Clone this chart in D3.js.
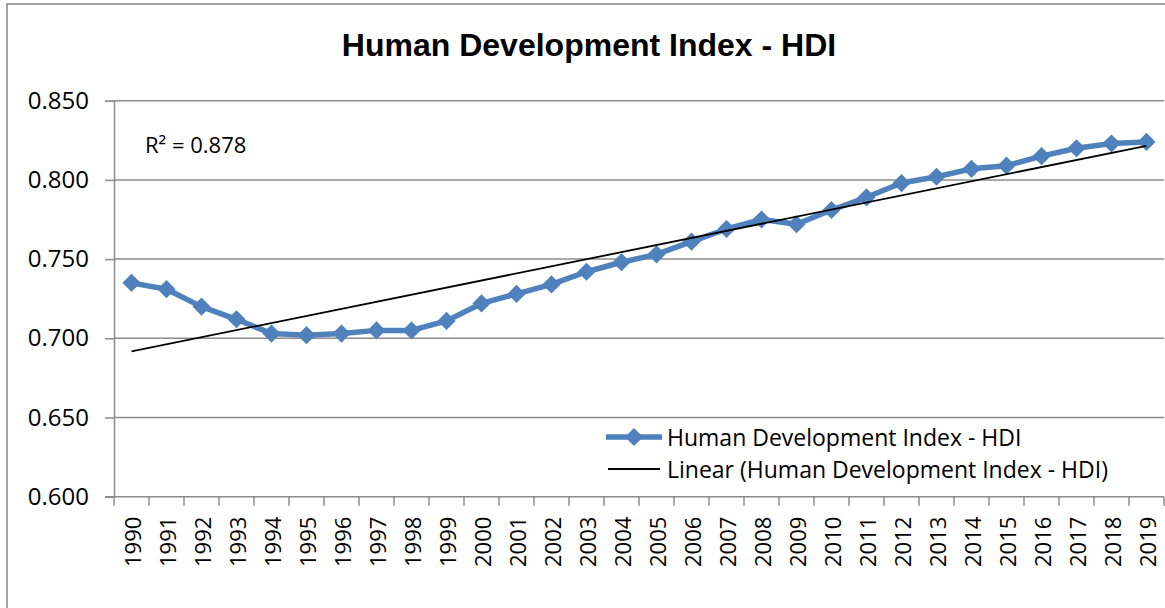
<!DOCTYPE html>
<html>
<head>
<meta charset="utf-8">
<script src="https://cdn.jsdelivr.net/npm/d3@7"></script>
<style>
  body { margin: 0; background: #fff; }
  text { font-family: "Open Sans", "Noto Sans", sans-serif; fill: #000; }
</style>
</head>
<body>
<svg id="hdi"></svg>
<script>
// chart data
var years = ["1990","1991","1992","1993","1994","1995","1996","1997","1998","1999",
             "2000","2001","2002","2003","2004","2005","2006","2007","2008","2009",
             "2010","2011","2012","2013","2014","2015","2016","2017","2018","2019"];
var hdiValues = [0.735,0.731,0.720,0.712,0.703,0.702,0.703,0.705,0.705,0.711,
                 0.722,0.728,0.734,0.742,0.748,0.753,0.761,0.769,0.775,0.772,
                 0.781,0.789,0.798,0.802,0.807,0.809,0.815,0.820,0.823,0.824];
var yTicks = [0.600,0.650,0.700,0.750,0.800,0.850];
var seriesName = "Human Development Index - HDI";
var trendName = "Linear (Human Development Index - HDI)";

var blue = "#4f81bd";
var gridColor = "#8c8c8c";

//least squares line over the point index, like the spreadsheet trendline
var linearFit = function(vals)
{
    var n = vals.length;
    var xs = d3.range(1, n+1);
    var mx = d3.mean(xs), my = d3.mean(vals);
    var sxy = 0, sxx = 0;
    for (var i = 0; i < n; i++) {
        sxy += (xs[i]-mx)*(vals[i]-my);
        sxx += (xs[i]-mx)*(xs[i]-mx);
    }
    var slope = sxy/sxx;
    var icpt = my - slope*mx;
    var ssTot = 0, ssRes = 0;
    for (var j = 0; j < n; j++) {
        var f = icpt + slope*xs[j];
        ssRes += (vals[j]-f)*(vals[j]-f);
        ssTot += (vals[j]-my)*(vals[j]-my);
    }
    return {slope:slope, icpt:icpt, r2:1-ssRes/ssTot};
}

var initGraph = function()
{
    var screen = {width:1165, height:608};
    var plot = {left:114, right:1164, top:100.7, bottom:496.7};

    var svg = d3.select("#hdi")
        .attr("width", screen.width)
        .attr("height", screen.height);

    // outer chart frame
    svg.append("rect")
        .attr("x", 7).attr("y", 4)
        .attr("width", 1170).attr("height", 640)
        .attr("fill", "none")
        .attr("stroke", "#888")
        .attr("stroke-width", 1.5);

    var xScale = d3.scaleBand()
        .domain(years)
        .range([plot.left, plot.right])
        .padding(0);

    var yScale = d3.scaleLinear()
        .domain([0.6, 0.85])
        .range([plot.bottom, plot.top]);

    // gridlines
    svg.append("g")
        .selectAll("line")
        .data(yTicks.slice(1))
        .enter()
        .append("line")
        .attr("x1", plot.left).attr("x2", plot.right)
        .attr("y1", function(d){ return yScale(d); })
        .attr("y2", function(d){ return yScale(d); })
        .attr("stroke", gridColor)
        .attr("stroke-width", 1.5);

    // y axis
    var yAxis = d3.axisLeft(yScale)
        .tickValues(yTicks)
        .tickFormat(d3.format(".3f"))
        .tickSize(9)
        .tickPadding(16);
    var yG = svg.append("g")
        .attr("transform", "translate("+plot.left+",0)")
        .call(yAxis);
    yG.select(".domain").attr("stroke", gridColor).attr("stroke-width", 1.5);
    yG.selectAll(".tick line").attr("stroke", gridColor).attr("stroke-width", 1.5);
    yG.selectAll("text")
        .attr("font-size", 24)
        .attr("font-family", "'Open Sans', sans-serif")
        .attr("fill", "#000");

    // x axis (ticks between categories)
    var xG = svg.append("g")
        .attr("transform", "translate(0,"+plot.bottom+")");
    xG.append("line")
        .attr("x1", plot.left - 9).attr("x2", plot.right)
        .attr("stroke", gridColor).attr("stroke-width", 1.5);
    xG.selectAll(".tk")
        .data(years.concat(["end"]))
        .enter()
        .append("line")
        .attr("x1", function(d,i){ return i < years.length ? xScale(d) : plot.right; })
        .attr("x2", function(d,i){ return i < years.length ? xScale(d) : plot.right; })
        .attr("y1", 0).attr("y2", 9)
        .attr("stroke", gridColor).attr("stroke-width", 1.5);
    xG.selectAll(".lbl")
        .data(years)
        .enter()
        .append("text")
        .text(function(d){ return d; })
        .attr("font-size", 22)
        .attr("text-anchor", "end")
        .attr("dominant-baseline", "central")
        .attr("transform", function(d){
            return "translate("+(xScale(d)+xScale.bandwidth()/2)+",20) rotate(-90)";
        });

    var cx = function(i){ return xScale(years[i]) + xScale.bandwidth()/2; };

    // data line
    var line = d3.line()
        .x(function(d,i){ return cx(i); })
        .y(function(d){ return yScale(d); });
    svg.append("path")
        .datum(hdiValues)
        .attr("d", line)
        .attr("fill", "none")
        .attr("stroke", blue)
        .attr("stroke-width", 5.5)
        .attr("stroke-linejoin", "round");

    var diamond = d3.symbol().type(d3.symbolSquare).size(165);
    svg.append("g")
        .selectAll("path")
        .data(hdiValues)
        .enter()
        .append("path")
        .attr("d", diamond)
        .attr("fill", blue)
        .attr("transform", function(d,i){
            return "translate("+cx(i)+","+yScale(d)+") rotate(45)";
        });

    // trendline
    var fit = linearFit(hdiValues);
    var n = hdiValues.length;
    svg.append("line")
        .attr("x1", cx(0)).attr("y1", yScale(fit.icpt + fit.slope*1))
        .attr("x2", cx(n-1)).attr("y2", yScale(fit.icpt + fit.slope*n))
        .attr("stroke", "#000")
        .attr("stroke-width", 1.8);

    svg.append("text")
        .text("R² = " + d3.format(".3f")(fit.r2))
        .attr("x", 145).attr("y", 153)
        .attr("font-size", 22);

    // title
    svg.append("text")
        .text(seriesName)
        .attr("text-anchor", "middle")
        .attr("x", 589).attr("y", 56)
        .style("font-family", "'Liberation Sans', Arial, Helvetica, sans-serif")
        .style("font-weight", "bold")
        .style("font-size", "32px");

    // legend
    var legend = svg.append("g");
    legend.append("line")
        .attr("x1", 606).attr("x2", 662)
        .attr("y1", 437).attr("y2", 437)
        .attr("stroke", blue).attr("stroke-width", 5.5);
    legend.append("path")
        .attr("d", diamond)
        .attr("fill", blue)
        .attr("transform", "translate(634,437) rotate(45)");
    legend.append("text")
        .text(seriesName)
        .attr("x", 667).attr("y", 437)
        .attr("dominant-baseline", "central")
        .attr("font-size", 23);
    legend.append("line")
        .attr("x1", 608).attr("x2", 660)
        .attr("y1", 469).attr("y2", 469)
        .attr("stroke", "#000").attr("stroke-width", 1.8);
    legend.append("text")
        .text(trendName)
        .attr("x", 667).attr("y", 469)
        .attr("dominant-baseline", "central")
        .attr("font-size", 23);
}

initGraph();
</script>
</body>
</html>
